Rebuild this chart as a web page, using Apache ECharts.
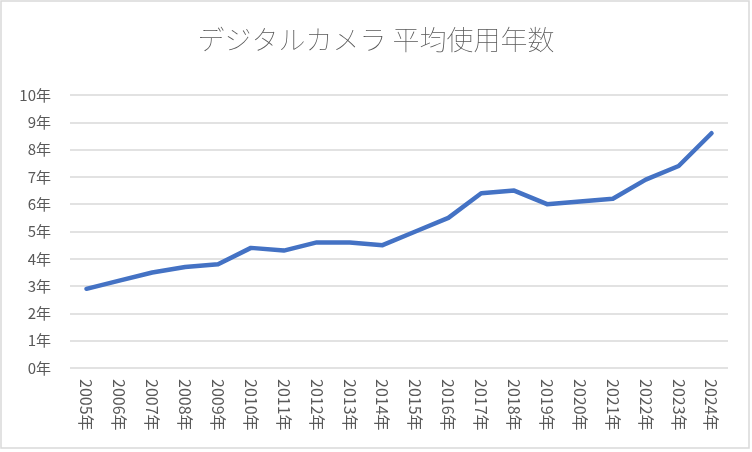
<!DOCTYPE html>
<html>
<head>
<meta charset="utf-8">
<script src="https://cdn.jsdelivr.net/npm/echarts@6/dist/echarts.min.js"></script>
<style>html,body{margin:0;padding:0;background:#fff;}#main{width:752px;height:452px;}</style>
</head>
<body>
<div id="main"></div>
<script>
const titleText = 'デジタルカメラ 平均使用年数';
const categories = ['2005年','2006年','2007年','2008年','2009年','2010年','2011年','2012年','2013年','2014年','2015年','2016年','2017年','2018年','2019年','2020年','2021年','2022年','2023年','2024年'];
const values = [2.9, 3.2, 3.5, 3.7, 3.8, 4.4, 4.3, 4.6, 4.6, 4.5, 5.0, 5.5, 6.4, 6.5, 6.0, 6.1, 6.2, 6.9, 7.4, 8.6];
const yTickSuffix = '年';

const chart = echarts.init(document.getElementById('main'), null, {renderer: 'canvas'});
const font = '"Noto Sans CJK JP", "Noto Sans", sans-serif';
chart.setOption({
  animation: false,
  backgroundColor: '#ffffff',
  title: {
    text: titleText,
    left: 'center',
    top: 21,
    textStyle: {fontFamily: font, fontSize: 27, fontWeight: 'lighter', color: '#595959'}
  },
  graphic: [{
    type: 'rect',
    shape: {x: 1, y: 1, width: 748, height: 447},
    style: {fill: 'none', stroke: '#d9d9d9', lineWidth: 1.5},
    silent: true
  }],
  grid: {left: 70, right: 24, top: 95, bottom: 84, containLabel: false},
  xAxis: {
    type: 'category',
    data: categories,
    boundaryGap: true,
    axisLine: {show: false},
    axisTick: {show: false},
    axisLabel: {rotate: -90, margin: 11, color: '#595959', fontFamily: font, fontSize: 16, interval: 0}
  },
  yAxis: {
    type: 'value',
    min: 0, max: 10, interval: 1,
    axisLine: {show: false},
    axisTick: {show: false},
    axisLabel: {margin: 19, color: '#595959', fontFamily: font, fontSize: 15,
      formatter: v => v + yTickSuffix},
    splitLine: {lineStyle: {color: '#d9d9d9', width: 1.5}}
  },
  series: [{
    type: 'line',
    data: values,
    symbol: 'none',
    lineStyle: {color: '#4472C4', width: 4.5, cap: 'round', join: 'round'},
    itemStyle: {color: '#4472C4'}
  }]
});
</script>
</body>
</html>
